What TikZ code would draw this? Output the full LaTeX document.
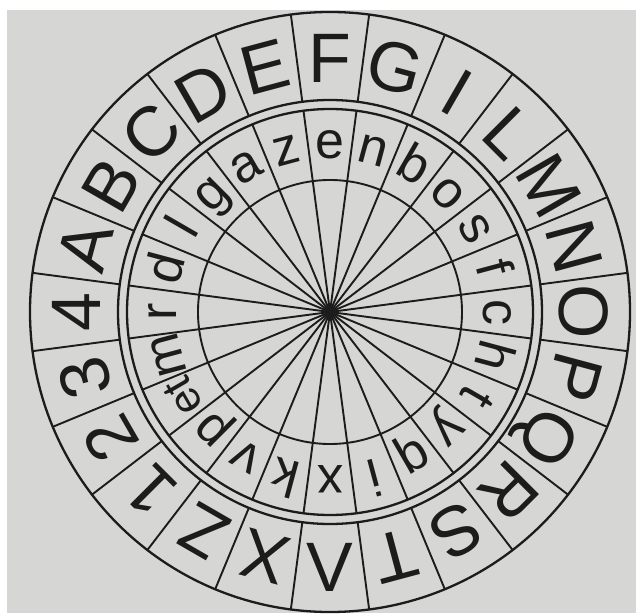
\documentclass[tikz,border=0pt]{standalone}
\usepackage{fontspec}
\setmainfont{Liberation Sans}
\definecolor{paper}{RGB}{214,214,212}
\definecolor{ink}{RGB}{28,28,28}

\begin{document}
\begin{tikzpicture}[x=1pt,y=1pt,
    rim/.style={ink,line width=2.3},
    spoke/.style={ink,line width=1.9},
    capital/.style={ink,anchor=base,inner sep=0,font=\fontsize{70}{70}\selectfont},
    small/.style={ink,anchor=base,inner sep=0,font=\fontsize{52}{52}\selectfont}]
  % paper (1 unit = 1 px of the scan, hub at the origin)
  \fill[white] (-330,-301) rectangle (306,312);
  \fill[paper] (-323,-301) rectangle (306,302);
  \useasboundingbox (-330,-301) rectangle (306,312);
  % rings
  \draw[rim] (0,0) circle (300);
  \draw[rim] (0,0) circle (212);
  \draw[rim] (0,0) circle (203);
  \draw[spoke] (0,0) circle (132);
  % spokes, 24 cells
  \foreach \k in {0,...,23}{
    \draw[spoke] (0,0) -- (7.5+15*\k:203);
    \draw[spoke] (7.5+15*\k:212) -- (7.5+15*\k:300);
  }
  \fill[ink] (0,0) circle (5);
  % fixed ring, clockwise from the top
  \foreach \c [count=\i from 0] in {F,G,I,L,M,N,O,P,Q,R,S,T,V,X,Z,1,2,3,4,A,B,C,D,E}{
    \pgfmathsetmacro\r{\i==12 ? 0 : -15*\i}
    \node[capital,rotate=\r] (cap\i) at (90-15*\i:{\i==12 ? 279 : 229}) {\c};
  }
  % moving ring
  \foreach \c [count=\i from 0] in {e,n,b,o,s,f,c,h,t,y,q,i,x,k,v,p,et,m,r,d,l,g,a,z}{
    \ifnum\i=16
      \node[small,rotate=-15*\i,font=\fontsize{44}{44}\selectfont] (low\i) at (90-15*\i:155) {\c};
    \else
      \node[small,rotate=-15*\i] (low\i) at (90-15*\i:153) {\c};
    \fi
  }
\end{tikzpicture}
\end{document}
